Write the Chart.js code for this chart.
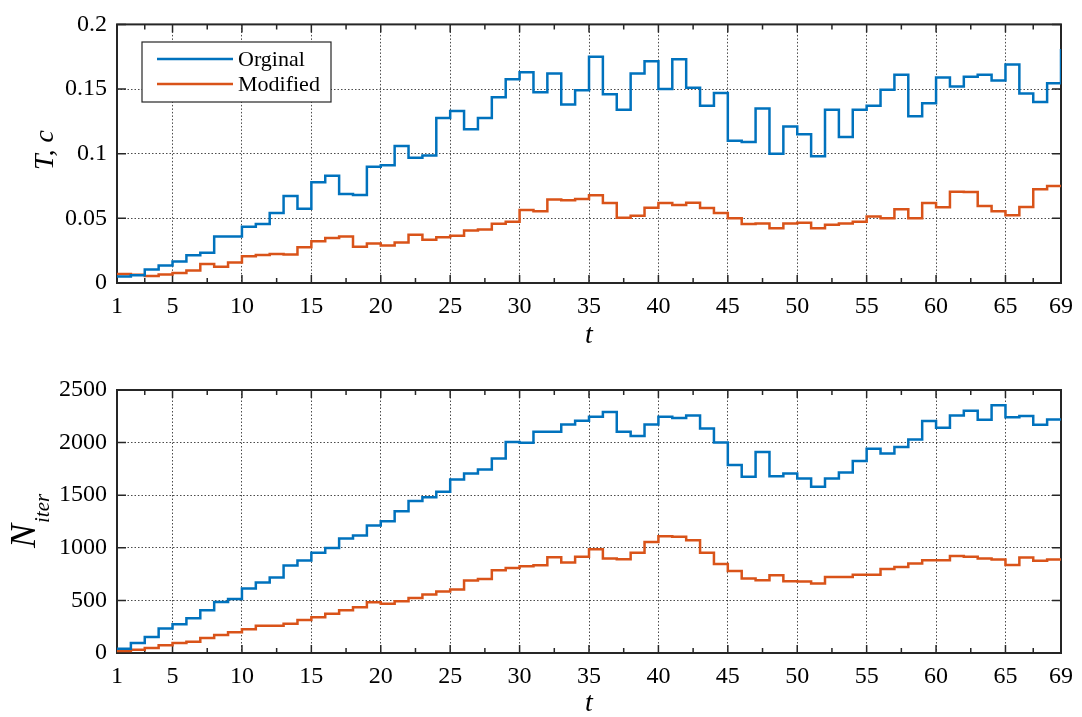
<!DOCTYPE html>
<html>
<head>
<meta charset="utf-8">
<script src="https://cdn.jsdelivr.net/npm/chart.js@4/dist/chart.umd.min.js"></script>
<style>
  html, body { margin: 0; padding: 0; background: #fff; }
  #wrap { position: relative; width: 1082px; height: 717px; }
  .box { position: absolute; left: 0; width: 1082px; }
  #topBox { top: 0; height: 358px; }
  #botBox { top: 358px; height: 359px; }
</style>
</head>
<body>
<div id="wrap">
  <div class="box" id="topBox"><canvas id="timeChart"></canvas></div>
  <div class="box" id="botBox"><canvas id="iterChart"></canvas></div>
</div>
<script>
// Data
const tValues = [1, 2, 3, 4, 5, 6, 7, 8, 9, 10, 11, 12, 13, 14, 15, 16, 17, 18, 19, 20,
  21, 22, 23, 24, 25, 26, 27, 28, 29, 30, 31, 32, 33, 34, 35, 36, 37, 38, 39, 40,
  41, 42, 43, 44, 45, 46, 47, 48, 49, 50, 51, 52, 53, 54, 55, 56, 57, 58, 59, 60,
  61, 62, 63, 64, 65, 66, 67, 68, 69];

const timeOriginal = [0.005, 0.006, 0.0105, 0.0135, 0.0166, 0.0214, 0.0234, 0.036, 0.036, 0.0436,
  0.0456, 0.0542, 0.0673, 0.0575, 0.078, 0.083, 0.0688, 0.068, 0.090, 0.091,
  0.106, 0.0968, 0.0986, 0.1276, 0.133, 0.119, 0.1276, 0.1437, 0.1576, 0.163,
  0.1475, 0.162, 0.138, 0.149, 0.175, 0.146, 0.134, 0.162, 0.1715, 0.150,
  0.173, 0.151, 0.137, 0.147, 0.110, 0.109, 0.135, 0.100, 0.121, 0.115,
  0.098, 0.134, 0.113, 0.134, 0.137, 0.1495, 0.161, 0.129, 0.139, 0.159,
  0.152, 0.1596, 0.161, 0.1566, 0.169, 0.1465, 0.140, 0.1545, 0.181];

const timeModified = [0.007, 0.0063, 0.0055, 0.0066, 0.0078, 0.0096, 0.0146, 0.0126, 0.0159, 0.0207,
  0.0217, 0.0224, 0.022, 0.0277, 0.0323, 0.0348, 0.036, 0.028, 0.0305, 0.029,
  0.0313, 0.0373, 0.0335, 0.0353, 0.0366, 0.0406, 0.0413, 0.0459, 0.0474, 0.0565,
  0.0555, 0.0645, 0.064, 0.065, 0.0678, 0.0618, 0.0504, 0.052, 0.0582, 0.0618,
  0.0603, 0.062, 0.058, 0.0542, 0.050, 0.0456, 0.046, 0.0424, 0.046, 0.0466,
  0.0424, 0.0451, 0.046, 0.0474, 0.0514, 0.050, 0.057, 0.050, 0.0618, 0.0585,
  0.0706, 0.0703, 0.0595, 0.0555, 0.0524, 0.0587, 0.0726, 0.0751, 0.0751];

const iterOriginal = [40, 95, 152, 232, 273, 330, 406, 485, 514, 612,
  669, 717, 831, 879, 952, 999, 1088, 1117, 1212, 1253,
  1348, 1446, 1481, 1532, 1649, 1707, 1745, 1849, 2005, 1998,
  2103, 2103, 2173, 2208, 2246, 2290, 2103, 2062, 2173, 2246,
  2233, 2258, 2135, 2002, 1786, 1675, 1910, 1681, 1707, 1659,
  1580, 1659, 1716, 1824, 1941, 1897, 1957, 2030, 2205, 2141,
  2258, 2303, 2217, 2354, 2240, 2252, 2170, 2220, 2220];

const iterModified = [20, 32, 48, 73, 95, 108, 143, 171, 197, 225,
  260, 260, 279, 314, 339, 374, 406, 435, 482, 469,
  492, 523, 555, 584, 603, 688, 704, 787, 809, 825,
  834, 910, 860, 914, 986, 898, 891, 952, 1056, 1110,
  1104, 1072, 952, 847, 780, 707, 692, 739, 682, 679,
  660, 723, 723, 745, 745, 799, 818, 850, 882, 882,
  923, 914, 898, 888, 837, 907, 876, 888, 888];

const xTicks = [1, 5, 10, 15, 20, 25, 30, 35, 40, 45, 50, 55, 60, 65, 69];
const timeTicks = [0, 0.05, 0.1, 0.15, 0.2];
const iterTicks = [0, 500, 1000, 1500, 2000, 2500];
const seriesNames = ['Orginal', 'Modified'];

const BLUE = '#0072BD';
const ORANGE = '#D95319';
const AXIS = '#262626';
const SERIF = "'Liberation Serif', 'Times New Roman', serif";

function points(ys) {
    return tValues.map((t, i) => ({ x: t, y: ys[i] }));
}

// frame and inward ticks (under the lines), titles and legend (on top)
const axesDecor = {
    id: 'axesDecor',
    beforeDatasetsDraw(chart, args, opts) {
        const ctx = chart.ctx;
        const a = chart.chartArea;
        const xs = chart.scales.x;
        const ys = chart.scales.y;
        ctx.save();
        ctx.strokeStyle = AXIS;
        ctx.lineWidth = 2;
        ctx.strokeRect(a.left, a.top, a.right - a.left, a.bottom - a.top);

        ctx.lineWidth = 1.5;
        ctx.beginPath();
        xTicks.forEach(v => {
            const px = xs.getPixelForValue(v);
            ctx.moveTo(px, a.bottom); ctx.lineTo(px, a.bottom - 8);
            ctx.moveTo(px, a.top); ctx.lineTo(px, a.top + 8);
        });
        for (let i = 0; i < xTicks.length - 1; i++) {
            const px = xs.getPixelForValue((xTicks[i] + xTicks[i + 1]) / 2);
            ctx.moveTo(px, a.bottom); ctx.lineTo(px, a.bottom - 5);
            ctx.moveTo(px, a.top); ctx.lineTo(px, a.top + 5);
        }
        opts.yTicks.forEach(v => {
            const py = ys.getPixelForValue(v);
            ctx.moveTo(a.left, py); ctx.lineTo(a.left + 9, py);
            ctx.moveTo(a.right, py); ctx.lineTo(a.right - 9, py);
        });
        ctx.stroke();
        ctx.restore();
    },
    afterDraw(chart, args, opts) {
        const ctx = chart.ctx;
        const a = chart.chartArea;
        ctx.save();

        // x title
        ctx.fillStyle = '#000';
        ctx.font = 'italic 28px ' + SERIF;
        ctx.textAlign = 'center';
        ctx.textBaseline = 'middle';
        ctx.fillText('t', (a.left + a.right) / 2, opts.xTitleY);

        // y title
        ctx.save();
        if (opts.sub) {
            ctx.translate(35, opts.yTitleY);
            ctx.rotate(-Math.PI / 2);
            ctx.textAlign = 'left';
            ctx.textBaseline = 'alphabetic';
            ctx.font = 'italic 36px ' + SERIF;
            ctx.fillText(opts.yTitle, 0, 0);
            const w = ctx.measureText(opts.yTitle).width;
            ctx.font = 'italic 21px ' + SERIF;
            ctx.fillText(opts.sub, w + 1, 14);
        } else {
            ctx.translate(53, opts.yTitleY);
            ctx.rotate(-Math.PI / 2);
            ctx.textAlign = 'center';
            ctx.textBaseline = 'alphabetic';
            ctx.font = 'italic 28px ' + SERIF;
            ctx.fillText(opts.yTitle, 0, 0);
        }
        ctx.restore();

        // legend
        if (opts.legend) {
            const bx = 142, by = 42, bw = 189, bh = 60;
            ctx.fillStyle = '#fff';
            ctx.fillRect(bx, by, bw, bh);
            ctx.strokeStyle = AXIS;
            ctx.lineWidth = 1.2;
            ctx.strokeRect(bx, by, bw, bh);
            const rows = [59, 84];
            const cols = [BLUE, ORANGE];
            ctx.font = '22px ' + SERIF;
            ctx.textAlign = 'left';
            ctx.textBaseline = 'middle';
            rows.forEach((ry, i) => {
                ctx.strokeStyle = cols[i];
                ctx.lineWidth = 2.5;
                ctx.beginPath();
                ctx.moveTo(157, ry); ctx.lineTo(233, ry);
                ctx.stroke();
                ctx.fillStyle = '#000';
                ctx.fillText(seriesNames[i], 238, ry + 1);
            });
        }
        ctx.restore();
    }
};

function makeChart(canvasId, orig, mod, yMax, yTicks, padTop, xHeight, decor) {
    const ctx = document.getElementById(canvasId).getContext('2d');
    const gridOpts = { color: 'rgba(30,30,30,0.8)', lineWidth: 1, drawTicks: false };
    const borderOpts = { display: false, dash: [1.5, 2] };
    return new Chart(ctx, {
        type: 'line',
        data: {
            datasets: [{
                label: seriesNames[0],
                data: points(orig),
                borderColor: BLUE,
                borderWidth: 2.5,
                pointRadius: 0,
                stepped: 'before',
                fill: false
            }, {
                label: seriesNames[1],
                data: points(mod),
                borderColor: ORANGE,
                borderWidth: 2.5,
                pointRadius: 0,
                stepped: 'before',
                fill: false
            }]
        },
        options: {
            responsive: true,
            maintainAspectRatio: false,
            animation: false,
            layout: { padding: { top: padTop, right: 14, left: 0, bottom: 0 } },
            plugins: {
                legend: { display: false },
                tooltip: { enabled: false },
                axesDecor: Object.assign({ yTicks: yTicks }, decor)
            },
            scales: {
                x: {
                    type: 'linear',
                    min: 1,
                    max: 69,
                    afterBuildTicks: s => { s.ticks = xTicks.map(v => ({ value: v })); },
                    afterFit: s => { s.height = xHeight; },
                    grid: gridOpts,
                    border: borderOpts,
                    ticks: {
                        padding: 9,
                        maxRotation: 0,
                        autoSkip: false,
                        color: '#000',
                        font: { family: SERIF, size: 24 },
                        callback: v => String(v)
                    }
                },
                y: {
                    min: 0,
                    max: yMax,
                    afterBuildTicks: s => { s.ticks = yTicks.map(v => ({ value: v })); },
                    afterFit: s => { s.width = 117; },
                    grid: gridOpts,
                    border: borderOpts,
                    ticks: {
                        padding: 10,
                        color: '#000',
                        font: { family: SERIF, size: 24 },
                        callback: v => String(v)
                    }
                }
            }
        },
        plugins: [axesDecor]
    });
}

makeChart('timeChart', timeOriginal, timeModified, 0.2, timeTicks, 18, 75,
    { legend: true, yTitle: 'T, c', yTitleY: 150, xTitleY: 336 });
makeChart('iterChart', iterOriginal, iterModified, 2500, iterTicks, 32, 64,
    { legend: false, yTitle: 'N', sub: 'iter', yTitleY: 548 - 358, xTitleY: 346 });
</script>
</body>
</html>
